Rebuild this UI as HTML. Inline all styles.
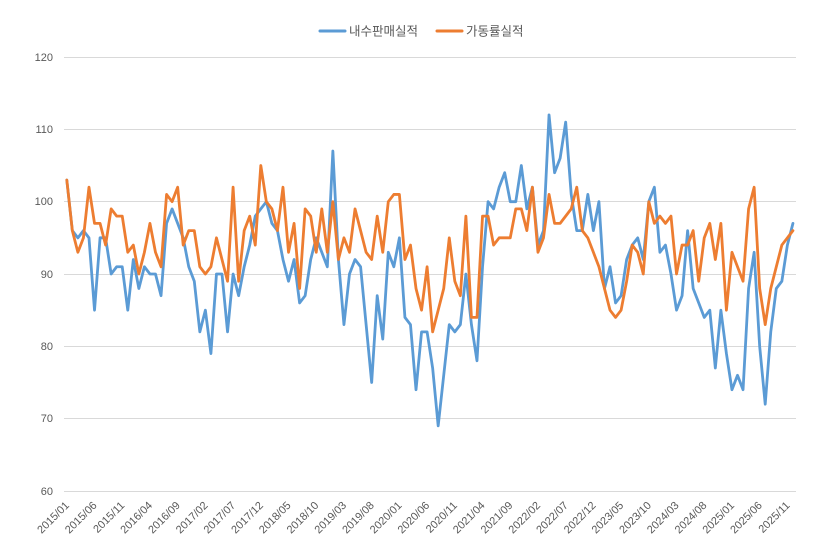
<!DOCTYPE html>
<html>
<head>
<meta charset="utf-8">
<style>
  html, body { margin:0; padding:0; background:#ffffff; }
  body { width:835px; height:558px; overflow:hidden; }
  svg { display:block; }
  text { font-family:"Liberation Sans","Noto Sans CJK KR","NanumGothic",sans-serif; fill:#595959; }
</style>
</head>
<body>
<svg width="835" height="558" viewBox="0 0 835 558" xmlns="http://www.w3.org/2000/svg">
  <rect x="0" y="0" width="835" height="558" fill="#ffffff"/>

  <!-- legend -->
  <line x1="320" y1="31" x2="345" y2="31" stroke="#5B9BD5" stroke-width="3" stroke-linecap="round"/>
  <text x="349" y="35.5" font-size="12.5">내수판매실적</text>
  <line x1="437" y1="31" x2="462" y2="31" stroke="#ED7D31" stroke-width="3" stroke-linecap="round"/>
  <text x="466" y="35.5" font-size="12.5">가동률실적</text>

  <!-- gridlines -->
  <g stroke="#d9d9d9" stroke-width="1">
    <line x1="64" y1="57.5" x2="796" y2="57.5"/>
    <line x1="64" y1="129.5" x2="796" y2="129.5"/>
    <line x1="64" y1="201.5" x2="796" y2="201.5"/>
    <line x1="64" y1="274.5" x2="796" y2="274.5"/>
    <line x1="64" y1="346.5" x2="796" y2="346.5"/>
    <line x1="64" y1="418.5" x2="796" y2="418.5"/>
    <line x1="64" y1="491.5" x2="796" y2="491.5"/>
  </g>

  <!-- y labels -->
  <g font-size="11" text-anchor="end">
    <text x="53" y="61">120</text>
    <text x="53" y="133">110</text>
    <text x="53" y="205">100</text>
    <text x="53" y="278">90</text>
    <text x="53" y="350">80</text>
    <text x="53" y="422">70</text>
    <text x="53" y="495">60</text>
  </g>

  <!-- x labels (every 5 months) -->
  <g font-size="11" text-anchor="end">
    <text transform="translate(69.8,506) rotate(-45)">2015/01</text>
    <text transform="translate(97.5,506) rotate(-45)">2015/06</text>
    <text transform="translate(125.2,506) rotate(-45)">2015/11</text>
    <text transform="translate(152.9,506) rotate(-45)">2016/04</text>
    <text transform="translate(180.7,506) rotate(-45)">2016/09</text>
    <text transform="translate(208.4,506) rotate(-45)">2017/02</text>
    <text transform="translate(236.1,506) rotate(-45)">2017/07</text>
    <text transform="translate(263.8,506) rotate(-45)">2017/12</text>
    <text transform="translate(291.5,506) rotate(-45)">2018/05</text>
    <text transform="translate(319.2,506) rotate(-45)">2018/10</text>
    <text transform="translate(347.0,506) rotate(-45)">2019/03</text>
    <text transform="translate(374.7,506) rotate(-45)">2019/08</text>
    <text transform="translate(402.4,506) rotate(-45)">2020/01</text>
    <text transform="translate(430.1,506) rotate(-45)">2020/06</text>
    <text transform="translate(457.8,506) rotate(-45)">2020/11</text>
    <text transform="translate(485.5,506) rotate(-45)">2021/04</text>
    <text transform="translate(513.3,506) rotate(-45)">2021/09</text>
    <text transform="translate(541.0,506) rotate(-45)">2022/02</text>
    <text transform="translate(568.7,506) rotate(-45)">2022/07</text>
    <text transform="translate(596.4,506) rotate(-45)">2022/12</text>
    <text transform="translate(624.1,506) rotate(-45)">2023/05</text>
    <text transform="translate(651.8,506) rotate(-45)">2023/10</text>
    <text transform="translate(679.5,506) rotate(-45)">2024/03</text>
    <text transform="translate(707.3,506) rotate(-45)">2024/08</text>
    <text transform="translate(735.0,506) rotate(-45)">2025/01</text>
    <text transform="translate(762.7,506) rotate(-45)">2025/06</text>
    <text transform="translate(790.4,506) rotate(-45)">2025/11</text>
  </g>

  <!-- series: x = 66.8 + 5.543*i ; y = 925 - 7.2333*v -->
  <g transform="matrix(5.543 0 0 -7.2333 66.8 925)" fill="none" stroke-linejoin="round" stroke-linecap="round">
    <polyline vector-effect="non-scaling-stroke" stroke="#5B9BD5" stroke-width="2.8"
      points="0,103 1,96 2,95 3,96 4,95 5,85 6,95 7,95 8,90 9,91 10,91 11,85 12,92 13,88 14,91 15,90 16,90 17,87 18,97 19,99 20,97 21,95 22,91 23,89 24,82 25,85 26,79 27,90 28,90 29,82 30,90 31,87 32,91 33,94 34,98 35,99 36,100 37,97 38,96 39,92 40,89 41,92 42,86 43,87 44,92 45,95 46,93 47,91 48,107 49,92 50,83 51,90 52,92 53,91 54,83 55,75 56,87 57,81 58,93 59,91 60,95 61,84 62,83 63,74 64,82 65,82 66,77 67,69 68,76 69,83 70,82 71,83 72,90 73,83 74,78 75,91 76,100 77,99 78,102 79,104 80,100 81,100 82,105 83,99 84,102 85,94 86,96 87,112 88,104 89,106 90,111 91,101 92,96 93,96 94,101 95,96 96,100 97,88 98,91 99,86 100,87 101,92 102,94 103,95 104,92 105,100 106,102 107,93 108,94 109,90 110,85 111,87 112,96 113,88 114,86 115,84 116,85 117,77 118,85 119,79 120,74 121,76 122,74 123,88 124,93 125,80 126,72 127,82 128,88 129,89 130,94 131,97"/>
    <polyline vector-effect="non-scaling-stroke" stroke="#ED7D31" stroke-width="2.8"
      points="0,103 1,96 2,93 3,95 4,102 5,97 6,97 7,94 8,99 9,98 10,98 11,93 12,94 13,90 14,93 15,97 16,93 17,91 18,101 19,100 20,102 21,94 22,96 23,96 24,91 25,90 26,91 27,95 28,92 29,89 30,102 31,89 32,96 33,98 34,94 35,105 36,100 37,99 38,96 39,102 40,93 41,97 42,88 43,99 44,98 45,93 46,99 47,93 48,100 49,92 50,95 51,93 52,99 53,96 54,93 55,92 56,98 57,93 58,100 59,101 60,101 61,92 62,94 63,88 64,85 65,91 66,82 67,85 68,88 69,95 70,89 71,87 72,98 73,84 74,84 75,98 76,98 77,94 78,95 79,95 80,95 81,99 82,99 83,96 84,102 85,93 86,95 87,101 88,97 89,97 90,98 91,99 92,102 93,96 94,95 95,93 96,91 97,88 98,85 99,84 100,85 101,89 102,94 103,93 104,90 105,100 106,97 107,98 108,97 109,98 110,90 111,94 112,94 113,96 114,89 115,95 116,97 117,92 118,97 119,85 120,93 121,91 122,89 123,99 124,102 125,88 126,83 127,88 128,91 129,94 130,95 131,96"/>
  </g>
</svg>
</body>
</html>
